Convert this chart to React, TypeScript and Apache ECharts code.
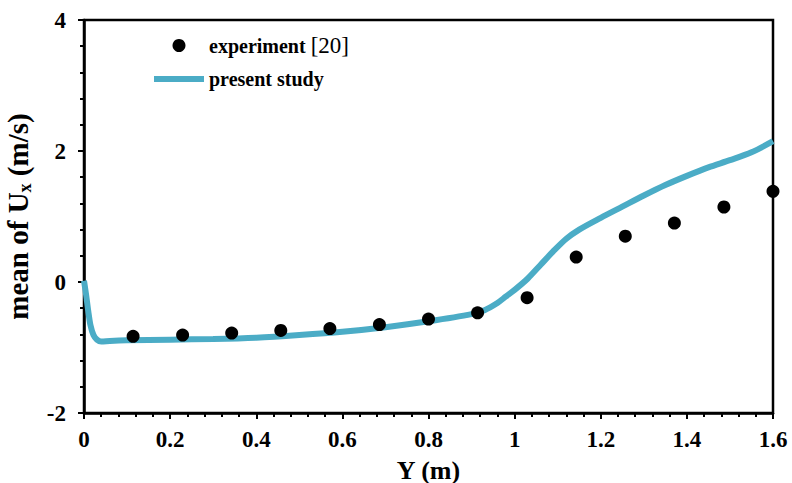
import React, { useEffect, useRef } from "react";
import * as echarts from "echarts";

const expX = [0.114, 0.229, 0.343, 0.457, 0.571, 0.686, 0.8, 0.914, 1.029, 1.143, 1.257, 1.371, 1.486, 1.6];
const expY = [-0.83, -0.81, -0.78, -0.74, -0.71, -0.65, -0.565, -0.47, -0.24, 0.38, 0.7, 0.9, 1.145, 1.385];

const simX = [0, 0.005, 0.01, 0.015, 0.022, 0.03, 0.04, 0.06, 0.1, 0.2, 0.3, 0.4, 0.5, 0.6, 0.7, 0.8, 0.9, 0.93, 0.96, 0.98, 1.0, 1.03, 1.06, 1.09, 1.12, 1.15, 1.2, 1.25, 1.3, 1.35, 1.4, 1.45, 1.5, 1.55, 1.6];
const simY = [0.02, -0.2, -0.45, -0.66, -0.81, -0.88, -0.91, -0.9, -0.89, -0.88, -0.87, -0.85, -0.81, -0.76, -0.69, -0.6, -0.49, -0.43, -0.32, -0.22, -0.12, 0.05, 0.26, 0.47, 0.66, 0.8, 0.98, 1.15, 1.32, 1.48, 1.62, 1.75, 1.86, 1.98, 2.15];

const seriesNames = ["experiment [20]", "present study"];
const FONT = "'Liberation Serif', 'Times New Roman', serif";

export default function App() {
  const ref = useRef<HTMLDivElement>(null);
  useEffect(() => {
    if (!ref.current) return;
    const chart = echarts.init(ref.current, null, { renderer: "svg" });
    chart.setOption({
      animation: false,
      backgroundColor: "#fff",
      grid: {
        left: 84, right: 19, top: 20, bottom: 70,
        outerBoundsMode: "none",
        containLabel: false,
        show: true, borderColor: "#000", borderWidth: 2.5, backgroundColor: "transparent",
      },
      legend: {
        orient: "vertical",
        left: 149,
        top: 29,
        itemGap: 12,
        itemWidth: 50,
        itemHeight: 13,
        textStyle: {
          fontFamily: FONT, fontWeight: "bold", fontSize: 20, color: "#000",
          rich: { n: { fontFamily: FONT, fontWeight: "normal", fontSize: 23, color: "#000" } },
        },
        formatter: (name: string) => name.replace("[20]", "{n|[20]}"),
        data: [
          { name: seriesNames[0], icon: "circle", itemStyle: { color: "#000" } },
          { name: seriesNames[1], icon: "path://M0,0 L50,0 L50,6 L0,6 Z", itemStyle: { color: "#4BACC6" } },
        ],
      },
      xAxis: {
        type: "value",
        min: 0, max: 1.6, interval: 0.2,
        name: "Y (m)",
        nameLocation: "middle",
        nameGap: 44,
        nameTextStyle: { fontFamily: FONT, fontWeight: "bold", fontSize: 26, color: "#000" },
        axisLine: { show: true, onZero: false, lineStyle: { color: "#000", width: 2.5 } },
        axisTick: { show: true, length: 6, lineStyle: { color: "#000", width: 2 } },
        minorTick: { show: true, splitNumber: 5, length: 4, lineStyle: { color: "#000", width: 2 } },
        splitLine: { show: false },
        axisLabel: {
          fontFamily: FONT, fontWeight: "bold", fontSize: 23, color: "#000", margin: 15,
          formatter: (v: number) => String(Math.round(v * 10) / 10),
        },
      },
      yAxis: {
        type: "value",
        min: -2, max: 4, interval: 2,
        name: "mean of U{sub|x} (m/s)",
        nameLocation: "middle",
        nameGap: 50,
        nameTextStyle: {
          fontFamily: FONT, fontWeight: "bold", fontSize: 29, color: "#000",
          rich: { sub: { fontFamily: FONT, fontWeight: "bold", fontSize: 18, color: "#000", verticalAlign: "bottom", padding: [14, 0, 0, 0] } },
        },
        axisLine: { show: true, onZero: false, lineStyle: { color: "#000", width: 2.5 } },
        axisTick: { show: true, length: 6, lineStyle: { color: "#000", width: 2 } },
        minorTick: { show: true, splitNumber: 5, length: 4, lineStyle: { color: "#000", width: 2 } },
        splitLine: { show: false },
        axisLabel: { fontFamily: FONT, fontWeight: "bold", fontSize: 23, color: "#000", margin: 18 },
      },
      series: [
        {
          name: seriesNames[1],
          type: "line",
          data: simX.map((x, i) => [x, simY[i]]),
          smooth: 0.3,
          showSymbol: false,
          lineStyle: { color: "#4BACC6", width: 6 },
          itemStyle: { color: "#4BACC6" },
          z: 2,
        },
        {
          name: seriesNames[0],
          type: "scatter",
          data: expX.map((x, i) => [x, expY[i]]),
          symbol: "circle",
          symbolSize: 13,
          itemStyle: { color: "#000", opacity: 1 },
          clip: false,
          z: 3,
        },
      ],
    });
    return () => chart.dispose();
  }, []);
  return <div ref={ref} style={{ width: 792, height: 483, position: "fixed", left: 0, top: 0 }} />;
}
